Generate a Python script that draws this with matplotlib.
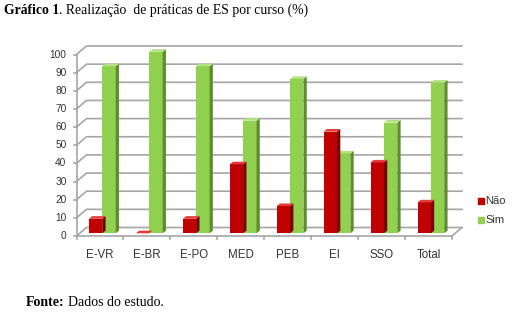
import numpy as np
import matplotlib.pyplot as plt
from matplotlib.patches import Polygon

cursos = ['E-VR', 'E-BR', 'E-PO', 'MED', 'PEB', 'EI', 'SSO', 'Total']
nao = [8, 0, 8, 38, 15, 56, 39, 17]
sim = [92, 100, 92, 62, 85, 44, 61, 83]
yticks = list(range(0, 101, 10))

# cores
red_front, red_side, red_top = '#C00000', '#7A0000', '#E23A3A'
green_front, green_side, green_top = '#92D050', '#5E8E2C', '#B4E27E'
grid_c = '#A6A6A6'
txt_c = '#333333'

W, H = 521, 314
fig = plt.figure(figsize=(W / 100, H / 100), dpi=100)

# plano frontal: x=0 -> px 76.5, x=8 -> px 452 ; y=0 -> px 236, y=100 -> px 54.5
x0_px, x8_px = 76.5, 452.0
y0_px, y100_px = 236.0, 54.5
pcx = (x8_px - x0_px) / 8
pcy = (y0_px - y100_px) / 100
right_px, top_px = 470, 38
ax = fig.add_axes([x0_px / W, (H - y0_px) / H, (right_px - x0_px) / W, (y0_px - top_px) / H])
ax.set_xlim(0, (right_px - x0_px) / pcx)
ax.set_ylim(0, (y0_px - top_px) / pcy)
ax.axis('off')

n = len(cursos)
DX, DY = 10 / pcx, 8.5 / pcy        # profundidade da parede de fundo
BX, BY = 3.0 / pcx, 1.5              # plano das barras
sx, sy = 3.3 / pcx, 2.6 / pcy       # profundidade das barras

# grade
for v in yticks:
    ax.plot([0, DX, n + DX], [v, v + DY, v + DY], color=grid_c, lw=1.2, clip_on=False, zorder=1)
ax.plot([0, n], [0, 0], color=grid_c, lw=1.2, clip_on=False, zorder=1)
ax.plot([n, n + DX], [0, DY], color=grid_c, lw=1.2, clip_on=False, zorder=1)
ax.plot([0, 0], [0, 100], color=grid_c, lw=1.2, clip_on=False, zorder=1)

tick_x = 3 / pcx
tick_y = 3 / pcy
for v in yticks:
    ax.plot([-tick_x, 0], [v, v], color=grid_c, lw=1.2, clip_on=False)
    ax.text(-10 / pcx, v, str(v), ha='right', va='center', fontsize=7.3,
            family='Liberation Sans', color=txt_c)
for i in range(n + 1):
    ax.plot([i, i], [0, -tick_y], color=grid_c, lw=1.2, clip_on=False)
for i, c in enumerate(cursos):
    ax.text(i + 0.5, -19 / pcy, c, ha='center', va='center', fontsize=8.3,
            family='Liberation Sans', color=txt_c)

w = 0.285
x = np.arange(n)
left_n = x + 0.265 - BX
left_s = left_n + w


def barra3d(left, vals, front, side, top):
    ax.bar(left + BX, vals, width=w, bottom=BY, align='edge', color=front,
           lw=0, zorder=3, clip_on=False)
    for l, v in zip(left, vals):
        l = l + BX
        h = v + BY
        ax.add_patch(Polygon([[l + w, BY], [l + w + sx, BY + sy], [l + w + sx, h + sy], [l + w, h]],
                             closed=True, color=side, lw=0, zorder=3, clip_on=False))
        ax.add_patch(Polygon([[l, h], [l + sx, h + sy], [l + w + sx, h + sy], [l + w, h]],
                             closed=True, color=top, lw=0, zorder=3, clip_on=False))


barra3d(left_s, sim, green_front, green_side, green_top)
barra3d(left_n, nao, red_front, red_side, red_top)

# legenda
fig.patches.append(plt.Rectangle((478 / W, 1 - 204 / H), 6 / W, 6 / H, transform=fig.transFigure,
                                 color=red_front, figure=fig))
fig.patches.append(plt.Rectangle((478 / W, 1 - 223 / H), 6 / W, 6 / H, transform=fig.transFigure,
                                 color=green_front, figure=fig))
fig.text(485 / W, 1 - 201 / H, 'Não', fontsize=8, family='Liberation Sans', color=txt_c, va='center')
fig.text(485 / W, 1 - 220 / H, 'Sim', fontsize=8, family='Liberation Sans', color=txt_c, va='center')

# título e fonte
renderer = fig.canvas.get_renderer()
t1 = fig.text(4 / W, 1 - 10 / H, 'Gráfico 1', fontsize=9.9, family='Liberation Serif',
              weight='bold', va='center')
bb = t1.get_window_extent(renderer)
fig.text(bb.x1 / W, 1 - 10 / H, '. Realização  de práticas de ES por curso (%)', fontsize=9.9,
         family='Liberation Serif', va='center')

t2 = fig.text(26 / W, 1 - 302 / H, 'Fonte:', fontsize=10, family='Liberation Serif',
              weight='bold', va='center')
bb = t2.get_window_extent(renderer)
fig.text(bb.x1 / W + 3 / W, 1 - 302 / H, 'Dados do estudo.', fontsize=10,
         family='Liberation Serif', va='center')

fig.savefig('out.png', dpi=100)
